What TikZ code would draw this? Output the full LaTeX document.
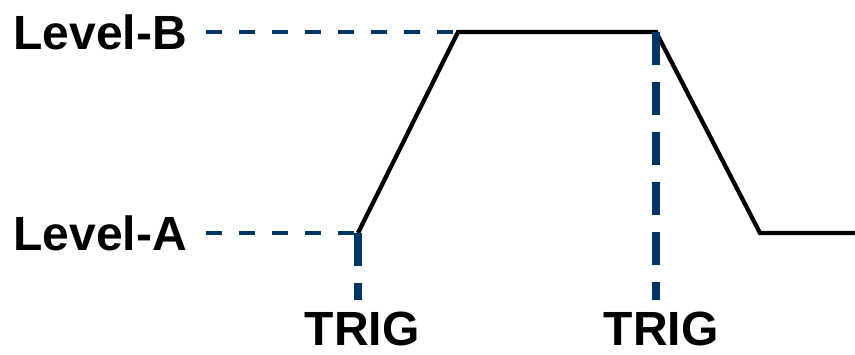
\documentclass[tikz,border=0pt]{standalone}
\usepackage{fontspec}
\setmainfont{Liberation Sans}
\definecolor{trigblue}{RGB}{0,54,99}
\tikzset{every picture/.style={line width=0.75pt}}
\tikzset{
  lbl/.style={font=\fontsize{36}{40}\selectfont\bfseries, inner xsep=14pt, inner ysep=0pt},
  trig/.style={font=\fontsize{36}{40}\selectfont\bfseries, inner xsep=0pt, inner ysep=8pt},
  wave/.style={draw=black, line width=3.2pt, line join=miter},
  hdash/.style={draw=trigblue, line width=3.4pt, dash pattern=on 12pt off 12.75pt},
  vdash/.style={draw=trigblue, line width=6pt, dash pattern=on 24.75pt off 12.75pt}
}

\begin{document}
\begin{tikzpicture}[x=0.75pt,y=0.75pt,yscale=-1,xscale=1]
\useasboundingbox (0,0) rectangle (855,354);

% corners of the ramp
\coordinate (lowA) at (358,233);
\coordinate (topB) at (458,32);
\coordinate (topC) at (656,32);
\coordinate (lowD) at (760,233);
\coordinate (lowE) at (855,233);

% Text Node
\node [lbl, anchor=east] (levelB) at (206,32) {Level-B};
% Text Node
\node [lbl, anchor=east] (levelA) at (206,233) {Level-A};
% Text Node
\node [trig, anchor=base] (trigA) at (362,345) {TRIG};
% Text Node
\node [trig, anchor=base] (trigB) at (661,345) {TRIG};

% Straight Lines
\draw [wave] (lowA) -- (topB) -- (topC) -- (lowD) -- (lowE);

% Dashed Lines
\draw [hdash] (levelB.east) -- (topB);
\draw [hdash] (levelA.east) -- (lowA);
\draw [vdash] (lowA) -- (lowA |- trigA.north);
\draw [vdash] (topC) -- (topC |- trigB.north);

\end{tikzpicture}
\end{document}
